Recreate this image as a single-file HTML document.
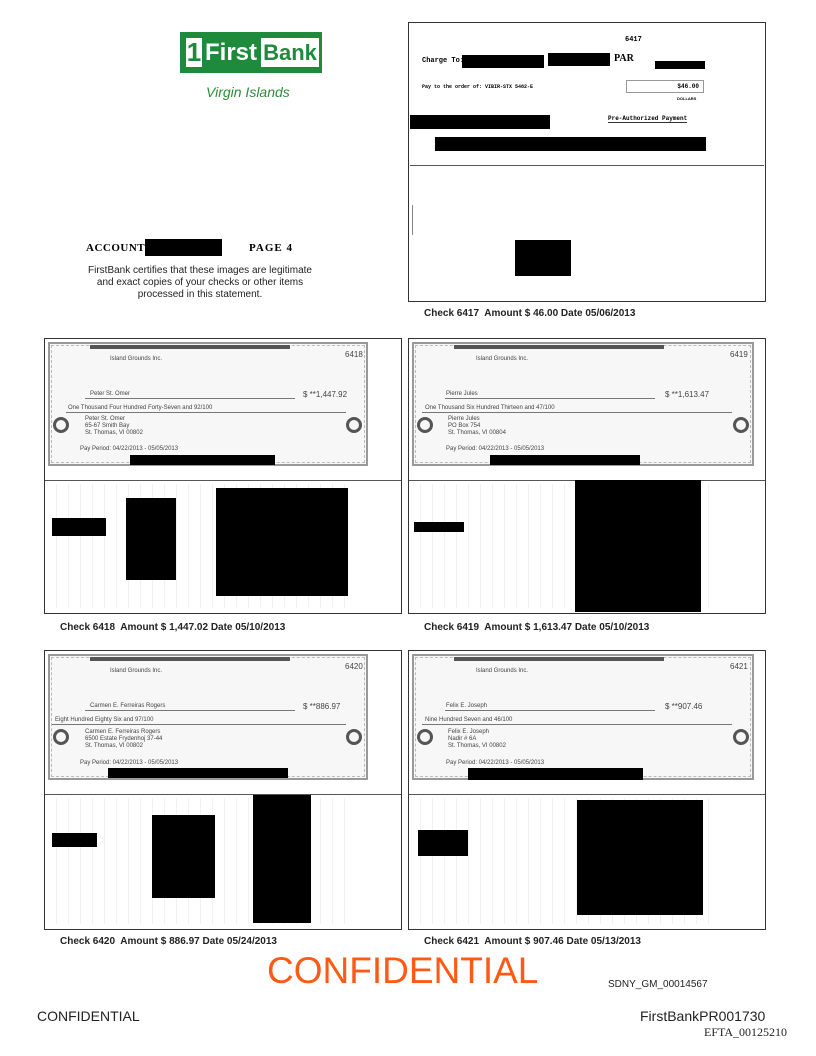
<!DOCTYPE html>
<html><head><style>
body{margin:0;width:816px;height:1056px;background:#fff;position:relative;font-family:"Liberation Sans",sans-serif;overflow:hidden}
div{position:absolute;box-sizing:border-box}
.b{background:#000}
.p{border:1px solid #333}
.cap{font-size:10px;font-weight:bold;color:#222}
.chk{border:2px solid #999;background:#f7f7f7;outline:1px dashed #bbb;outline-offset:-4px}
.sm{font-size:6px;color:#444;white-space:nowrap}
.ln{border-top:1px solid #555;height:0}
.back{background:repeating-linear-gradient(90deg,#fff 0 6px,#e8e8e8 6px 7px,#fff 7px 12px)}
.rl{border-top:1px solid #777;height:0}
</style></head><body>
<div style="left:180px;top:32px;width:142px;height:41px;background:#1e8a3c"></div>
<div style="left:186px;top:38px;width:16px;height:29px;background:#fff;color:#1e8a3c;font-weight:bold;font-size:26px;line-height:29px;text-align:center">1</div>
<div style="left:205px;top:38px;color:#fff;font-weight:bold;font-size:24px;line-height:29px">First</div>
<div style="left:261px;top:38px;width:58px;height:29px;background:#fff;color:#1e8a3c;font-weight:bold;font-size:22px;line-height:29px;text-align:center">Bank</div>
<div style="left:206px;top:84px;color:#2e8b3c;font-style:italic;font-size:14px">Virgin Islands</div>
<div style="left:86px;top:242px;font-family:'Liberation Serif',serif;font-weight:bold;font-size:11px;letter-spacing:0.5px">ACCOUNT</div>
<div class="b" style="left:145px;top:239px;width:77px;height:17px"></div>
<div style="left:249px;top:242px;font-family:'Liberation Serif',serif;font-weight:bold;font-size:11px;letter-spacing:1px">PAGE 4</div>
<div style="left:80px;top:265px;width:240px;text-align:center;font-size:10px;line-height:12px;color:#222">FirstBank certifies that these images are legitimate and exact copies of your checks or other items processed in this statement.</div>

<div class="p" style="left:408px;top:22px;width:358px;height:280px"></div>
<div class="ln" style="left:410px;top:165px;width:354px"></div>
<div style="left:625px;top:36px;font-family:'Liberation Mono',monospace;font-size:7px;font-weight:bold">6417</div>
<div style="left:422px;top:57px;font-family:'Liberation Mono',monospace;font-size:7px;font-weight:bold">Charge To:</div>
<div class="b" style="left:462px;top:55px;width:82px;height:13px"></div>
<div class="b" style="left:548px;top:53px;width:62px;height:13px"></div>
<div style="left:614px;top:53px;font-family:'Liberation Serif',serif;font-size:10px;font-weight:bold">PAR</div>
<div class="b" style="left:655px;top:61px;width:50px;height:8px"></div>
<div style="left:422px;top:84px;font-family:'Liberation Mono',monospace;font-size:5px;font-weight:bold">Pay to the order of: VIBIR-STX 5482-E</div>
<div style="left:626px;top:80px;width:78px;height:13px;border:1px solid #999;font-family:'Liberation Mono',monospace;font-size:6px;font-weight:bold;text-align:right;padding:2px 4px">$46.00</div>
<div style="left:677px;top:96px;font-size:4px;font-weight:bold">DOLLARS</div>
<div style="left:608px;top:115px;font-family:'Liberation Mono',monospace;font-size:6px;font-weight:bold;border-bottom:1px solid #333">Pre-Authorized Payment</div>
<div class="b" style="left:410px;top:115px;width:140px;height:14px"></div>
<div class="b" style="left:435px;top:137px;width:271px;height:14px"></div>
<div style="left:412px;top:205px;width:0;height:30px;border-left:1px solid #888"></div>
<div class="b" style="left:515px;top:240px;width:56px;height:36px"></div>
<div class="cap" style="left:424px;top:308px">Check 6417&nbsp; Amount $ 46.00 Date 05/06/2013</div>

<div class="p" style="left:44px;top:338px;width:358px;height:276px"></div>
<div class="p" style="left:408px;top:338px;width:358px;height:276px"></div>
<div class="p" style="left:44px;top:650px;width:358px;height:280px"></div>
<div class="p" style="left:408px;top:650px;width:358px;height:280px"></div>

<div class="chk" style="left:48px;top:342px;width:320px;height:124px"></div>
<div class="chk" style="left:412px;top:342px;width:342px;height:124px"></div>
<div class="chk" style="left:48px;top:654px;width:320px;height:126px"></div>
<div class="chk" style="left:412px;top:654px;width:342px;height:126px"></div>
<!-- check decorative lines -->
<div class="b" style="left:90px;top:345px;width:200px;height:4px;background:#555"></div>
<div class="b" style="left:454px;top:345px;width:210px;height:4px;background:#555"></div>
<div class="b" style="left:90px;top:657px;width:200px;height:4px;background:#555"></div>
<div class="b" style="left:454px;top:657px;width:210px;height:4px;background:#555"></div>
<div class="rl" style="left:85px;top:398px;width:210px"></div><div class="rl" style="left:66px;top:412px;width:280px"></div>
<div class="rl" style="left:445px;top:398px;width:210px"></div><div class="rl" style="left:422px;top:412px;width:310px"></div>
<div class="rl" style="left:85px;top:710px;width:210px"></div><div class="rl" style="left:52px;top:724px;width:294px"></div>
<div class="rl" style="left:445px;top:710px;width:210px"></div><div class="rl" style="left:422px;top:724px;width:310px"></div>
<div style="left:53px;top:417px;width:16px;height:16px;border:3px solid #555;border-radius:50%"></div>
<div style="left:346px;top:417px;width:16px;height:16px;border:3px solid #555;border-radius:50%"></div>
<div style="left:417px;top:417px;width:16px;height:16px;border:3px solid #555;border-radius:50%"></div>
<div style="left:733px;top:417px;width:16px;height:16px;border:3px solid #555;border-radius:50%"></div>
<div style="left:53px;top:729px;width:16px;height:16px;border:3px solid #555;border-radius:50%"></div>
<div style="left:346px;top:729px;width:16px;height:16px;border:3px solid #555;border-radius:50%"></div>
<div style="left:417px;top:729px;width:16px;height:16px;border:3px solid #555;border-radius:50%"></div>
<div style="left:733px;top:729px;width:16px;height:16px;border:3px solid #555;border-radius:50%"></div>

<div class="ln" style="left:45px;top:480px;width:356px"></div>
<div class="ln" style="left:409px;top:480px;width:356px"></div>
<div class="ln" style="left:45px;top:794px;width:356px"></div>
<div class="ln" style="left:409px;top:794px;width:356px"></div>
<div class="back" style="left:50px;top:484px;width:300px;height:124px;opacity:.6"></div>
<div class="back" style="left:414px;top:484px;width:300px;height:124px;opacity:.6"></div>
<div class="back" style="left:50px;top:798px;width:300px;height:126px;opacity:.6"></div>
<div class="back" style="left:414px;top:798px;width:300px;height:126px;opacity:.6"></div>

<div class="sm" style="left:110px;top:356px">Island Grounds Inc.</div><div class="sm" style="left:345px;top:350px;font-size:8px">6418</div>
<div class="sm" style="left:90px;top:391px">Peter St. Omer</div><div class="sm" style="left:303px;top:390px;font-size:8px">$ **1,447.92</div>
<div class="sm" style="left:68px;top:405px">One Thousand Four Hundred Forty-Seven and 92/100</div>
<div class="sm" style="left:85px;top:416px;line-height:7px">Peter St. Omer<br>65-67 Smith Bay<br>St. Thomas, VI 00802</div>
<div class="sm" style="left:80px;top:446px">Pay Period: 04/22/2013 - 05/05/2013</div>
<div class="b" style="left:130px;top:455px;width:145px;height:10px"></div>

<div class="sm" style="left:476px;top:356px">Island Grounds Inc.</div><div class="sm" style="left:730px;top:350px;font-size:8px">6419</div>
<div class="sm" style="left:446px;top:391px">Pierre Jules</div><div class="sm" style="left:665px;top:390px;font-size:8px">$ **1,613.47</div>
<div class="sm" style="left:425px;top:405px">One Thousand Six Hundred Thirteen and 47/100</div>
<div class="sm" style="left:448px;top:416px;line-height:7px">Pierre Jules<br>PO Box 754<br>St. Thomas, VI 00804</div>
<div class="sm" style="left:446px;top:446px">Pay Period: 04/22/2013 - 05/05/2013</div>
<div class="b" style="left:490px;top:455px;width:150px;height:10px"></div>

<div class="sm" style="left:110px;top:668px">Island Grounds Inc.</div><div class="sm" style="left:345px;top:662px;font-size:8px">6420</div>
<div class="sm" style="left:90px;top:703px">Carmen E. Ferreiras Rogers</div><div class="sm" style="left:303px;top:702px;font-size:8px">$ **886.97</div>
<div class="sm" style="left:55px;top:717px">Eight Hundred Eighty Six and 97/100</div>
<div class="sm" style="left:85px;top:729px;line-height:7px">Carmen E. Ferreiras Rogers<br>6500 Estate Frydenhoj 37-44<br>St. Thomas, VI 00802</div>
<div class="sm" style="left:80px;top:760px">Pay Period: 04/22/2013 - 05/05/2013</div>
<div class="b" style="left:108px;top:768px;width:180px;height:10px"></div>

<div class="sm" style="left:476px;top:668px">Island Grounds Inc.</div><div class="sm" style="left:730px;top:662px;font-size:8px">6421</div>
<div class="sm" style="left:446px;top:703px">Felix E. Joseph</div><div class="sm" style="left:665px;top:702px;font-size:8px">$ **907.46</div>
<div class="sm" style="left:425px;top:717px">Nine Hundred Seven and 46/100</div>
<div class="sm" style="left:448px;top:729px;line-height:7px">Felix E. Joseph<br>Nadir # 6A<br>St. Thomas, VI 00802</div>
<div class="sm" style="left:446px;top:760px">Pay Period: 04/22/2013 - 05/05/2013</div>
<div class="b" style="left:468px;top:768px;width:175px;height:12px"></div>

<div class="b" style="left:52px;top:518px;width:54px;height:18px"></div>
<div class="b" style="left:126px;top:498px;width:50px;height:82px"></div>
<div class="b" style="left:216px;top:488px;width:132px;height:108px"></div>
<div class="b" style="left:414px;top:522px;width:50px;height:10px"></div>
<div class="b" style="left:575px;top:480px;width:126px;height:132px"></div>
<div class="b" style="left:52px;top:833px;width:45px;height:14px"></div>
<div class="b" style="left:152px;top:815px;width:63px;height:83px"></div>
<div class="b" style="left:253px;top:795px;width:58px;height:128px"></div>
<div class="b" style="left:418px;top:830px;width:50px;height:26px"></div>
<div class="b" style="left:577px;top:800px;width:126px;height:115px"></div>

<div class="cap" style="left:60px;top:622px">Check 6418&nbsp; Amount $ 1,447.02 Date 05/10/2013</div>
<div class="cap" style="left:424px;top:622px">Check 6419&nbsp; Amount $ 1,613.47 Date 05/10/2013</div>
<div class="cap" style="left:60px;top:936px">Check 6420&nbsp; Amount $ 886.97 Date 05/24/2013</div>
<div class="cap" style="left:424px;top:936px">Check 6421&nbsp; Amount $ 907.46 Date 05/13/2013</div>

<div style="left:267px;top:950px;color:#ff5a14;font-size:37px;line-height:42px">CONFIDENTIAL</div>
<div style="left:608px;top:979px;font-size:10px;color:#222">SDNY_GM_00014567</div>
<div style="left:37px;top:1008px;font-size:14px;color:#222">CONFIDENTIAL</div>
<div style="left:640px;top:1008px;font-size:14px;color:#222">FirstBankPR001730</div>
<div style="left:704px;top:1025px;font-family:'Liberation Serif',serif;font-size:12px;color:#222">EFTA_00125210</div>
</body></html>
